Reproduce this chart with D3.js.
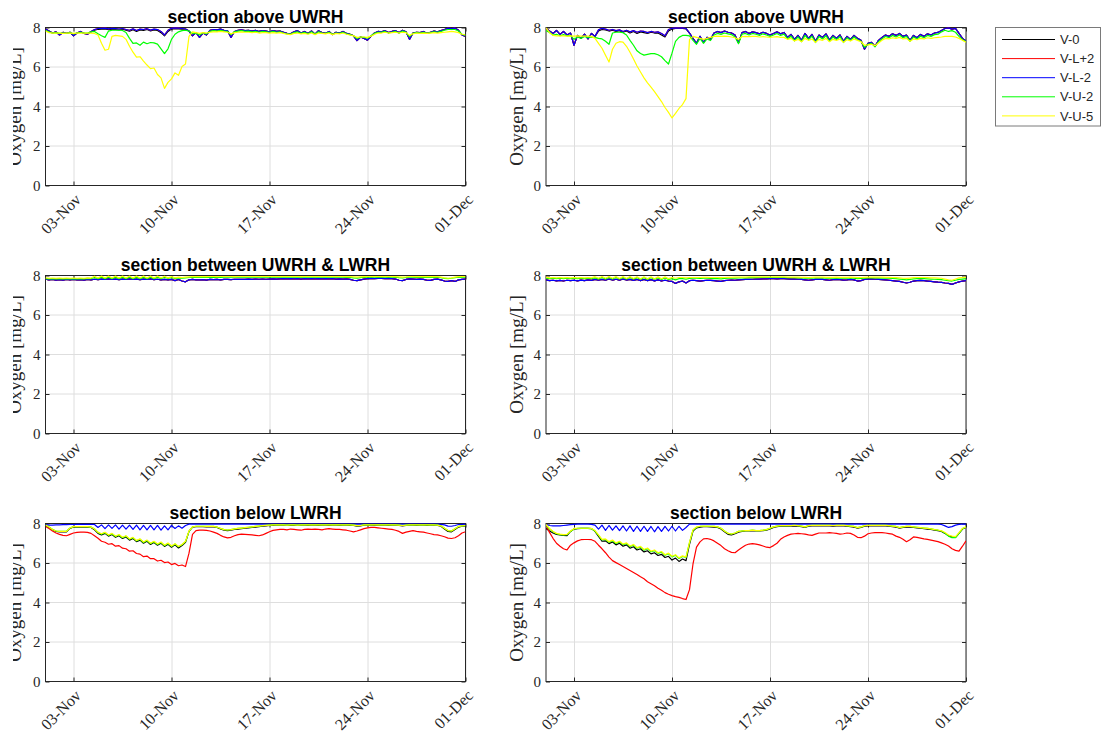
<!DOCTYPE html>
<html>
<head>
<meta charset="utf-8">
<script src="https://cdn.jsdelivr.net/npm/d3@7"></script>
<style>
  html, body { margin: 0; padding: 0; background: #ffffff; }
  svg { display: block; }
</style>
</head>
<body>
<svg id="fig" width="1108" height="735"></svg>
<script>
// ---- series metadata ----
const seriesNames  = ["V-0", "V-L+2", "V-L-2", "V-U-2", "V-U-5"];
const seriesColors = ["#000000", "#ff0000", "#0000ff", "#00ff00", "#ffff00"];
const panelTitles  = ["section above UWRH", "section between UWRH & LWRH", "section below LWRH"];
const yLabelText   = "Oxygen [mg/L]";
const tickDates    = ["2019-11-03", "2019-11-10", "2019-11-17", "2019-11-24", "2019-12-01"];
const yTicks       = [0, 2, 4, 6, 8];
const periodStart  = "2019-11-01T00:00:00Z";
const periodEnd    = "2019-12-01T00:00:00Z";
const sampleHours  = 6;   // values below are 6-hourly, starting at periodStart

// ---- section above UWRH, left run ----
const aboveL_VLm2 = [
  7.92,7.82,7.72,7.78, 7.62,7.75,7.70,7.76,
  7.58,7.72,7.80,7.70, 7.66,7.80,7.90,7.95,
  7.96,7.97,7.93,7.96, 7.94,7.92,7.95,7.90,
  7.86,7.93,7.85,7.92, 7.90,7.94,7.87,7.92,
  7.90,7.80,7.62,7.86, 7.96,7.98,7.97,7.95,
  7.92,7.82,7.58,7.74, 7.50,7.72,7.62,7.86,
  7.90,7.88,7.92,7.86, 7.84,7.50,7.80,7.86,
  7.88,7.84,7.86,7.82, 7.86,7.80,7.84,7.82,
  7.78,7.84,7.80,7.82, 7.76,7.70,7.68,7.78,
  7.84,7.72,7.80,7.70, 7.82,7.66,7.84,7.74,
  7.70,7.80,7.64,7.76, 7.72,7.80,7.70,7.66,
  7.58,7.34,7.52,7.45, 7.36,7.55,7.72,7.80,
  7.78,7.84,7.74,7.80, 7.84,7.74,7.86,7.78,
  7.40,7.72,7.76,7.74, 7.80,7.70,7.76,7.82,
  7.78,7.84,7.90,7.97, 7.94,7.98,7.86,7.62,
  7.55];
const aboveL_V0 = [
  7.92,7.82,7.72,7.78, 7.62,7.75,7.70,7.76,
  7.58,7.72,7.80,7.70, 7.66,7.78,7.86,7.91,
  7.92,7.93,7.89,7.92, 7.90,7.88,7.91,7.86,
  7.81,7.89,7.80,7.88, 7.85,7.90,7.83,7.88,
  7.85,7.74,7.58,7.80, 7.92,7.94,7.93,7.92,
  7.92,7.82,7.58,7.74, 7.50,7.72,7.62,7.86,
  7.90,7.88,7.92,7.86, 7.84,7.50,7.80,7.86,
  7.88,7.84,7.86,7.82, 7.86,7.80,7.84,7.82,
  7.78,7.84,7.80,7.82, 7.76,7.70,7.68,7.78,
  7.84,7.72,7.80,7.70, 7.82,7.66,7.84,7.74,
  7.70,7.80,7.64,7.76, 7.72,7.80,7.70,7.66,
  7.58,7.34,7.52,7.45, 7.36,7.55,7.72,7.80,
  7.78,7.84,7.74,7.80, 7.84,7.74,7.86,7.78,
  7.40,7.72,7.76,7.74, 7.80,7.70,7.76,7.82,
  7.78,7.84,7.90,7.97, 7.94,7.98,7.86,7.62,
  7.55];
const aboveL_VLp2 = aboveL_VLm2;   // identical record, drawn underneath V-L-2
const aboveL_VU2 = [
  7.85,7.78,7.72,7.74, 7.70,7.72,7.70,7.74,
  7.68,7.72,7.76,7.72, 7.72,7.78,7.80,7.68,
  7.58,7.50,7.82,7.86, 7.86,7.86,7.85,7.75,
  7.45,7.20,7.22,7.10, 7.26,7.18,7.24,7.22,
  7.16,6.92,6.68,6.92, 7.40,7.66,7.78,7.84,
  7.86,7.82,7.70,7.72, 7.62,7.74,7.68,7.80,
  7.84,7.82,7.85,7.82, 7.80,7.64,7.78,7.82,
  7.84,7.80,7.82,7.78, 7.80,7.76,7.80,7.78,
  7.76,7.80,7.76,7.78, 7.72,7.68,7.66,7.74,
  7.78,7.70,7.76,7.68, 7.78,7.66,7.78,7.72,
  7.70,7.76,7.66,7.72, 7.70,7.76,7.68,7.64,
  7.58,7.44,7.52,7.50, 7.46,7.58,7.70,7.76,
  7.76,7.80,7.72,7.76, 7.80,7.72,7.82,7.76,
  7.54,7.70,7.74,7.72, 7.76,7.70,7.74,7.78,
  7.76,7.80,7.86,7.90, 7.90,7.90,7.82,7.66,
  7.60];
const aboveL_VU5 = [
  7.82,7.74,7.72,7.72, 7.72,7.70,7.72,7.72,
  7.70,7.72,7.72,7.72, 7.72,7.72,7.70,7.62,
  7.20,6.85,6.90,7.55, 7.60,7.58,7.55,7.40,
  7.05,6.75,6.50,6.52, 6.30,6.10,5.92,5.95,
  5.62,5.45,4.92,5.22, 5.40,5.70,5.58,6.02,
  6.15,7.55,7.78,7.74, 7.70,7.74,7.72,7.76,
  7.78,7.78,7.80,7.78, 7.76,7.68,7.74,7.76,
  7.78,7.76,7.76,7.74, 7.76,7.72,7.74,7.74,
  7.72,7.74,7.72,7.74, 7.70,7.66,7.64,7.70,
  7.72,7.68,7.70,7.66, 7.72,7.64,7.72,7.70,
  7.68,7.72,7.64,7.70, 7.68,7.72,7.66,7.62,
  7.58,7.50,7.52,7.52, 7.50,7.56,7.66,7.72,
  7.72,7.76,7.72,7.74, 7.76,7.72,7.76,7.74,
  7.60,7.68,7.72,7.70, 7.72,7.70,7.72,7.74,
  7.72,7.74,7.76,7.78, 7.80,7.78,7.74,7.66,
  7.62];

// ---- section above UWRH, right run ----
const aboveR_VLm2 = [
  7.95,7.82,7.70,7.85, 7.65,7.80,7.62,7.72,
  7.10,7.60,7.45,7.66, 7.42,7.70,7.55,7.88,
  7.96,7.92,7.86,7.90, 7.84,7.88,7.80,7.86,
  7.78,7.84,7.76,7.82, 7.80,7.74,7.80,7.76,
  7.78,7.70,7.58,7.90, 7.96,7.98,7.97,7.98,
  7.95,7.72,7.45,7.20, 7.55,7.25,7.50,7.40,
  7.72,7.80,7.74,7.82, 7.76,7.72,7.62,7.22,
  7.74,7.80,7.70,7.78, 7.74,7.68,7.76,7.70,
  7.62,7.70,7.78,7.68, 7.75,7.50,7.65,7.40,
  7.60,7.35,7.70,7.45, 7.65,7.30,7.62,7.50,
  7.68,7.36,7.60,7.45, 7.62,7.30,7.55,7.40,
  7.60,7.45,7.35,6.90, 7.20,7.25,7.05,7.35,
  7.50,7.62,7.55,7.68, 7.60,7.70,7.55,7.62,
  7.35,7.60,7.48,7.65, 7.55,7.68,7.62,7.72,
  7.75,7.85,7.95,7.98, 7.92,7.96,7.70,7.45,
  7.32];
const aboveR_V0 = [
  7.95,7.82,7.70,7.85, 7.65,7.80,7.62,7.72,
  7.10,7.60,7.45,7.66, 7.42,7.70,7.55,7.82,
  7.90,7.88,7.82,7.86, 7.80,7.84,7.76,7.82,
  7.72,7.80,7.70,7.78, 7.74,7.70,7.76,7.72,
  7.72,7.62,7.52,7.82, 7.92,7.95,7.95,7.96,
  7.93,7.72,7.45,7.20, 7.55,7.25,7.50,7.40,
  7.72,7.80,7.74,7.82, 7.76,7.72,7.62,7.22,
  7.74,7.80,7.70,7.78, 7.74,7.68,7.76,7.70,
  7.62,7.70,7.78,7.68, 7.75,7.50,7.65,7.40,
  7.60,7.35,7.70,7.45, 7.65,7.30,7.62,7.50,
  7.68,7.36,7.60,7.45, 7.62,7.30,7.55,7.40,
  7.60,7.45,7.35,6.90, 7.20,7.25,7.05,7.35,
  7.50,7.62,7.55,7.68, 7.60,7.70,7.55,7.62,
  7.35,7.60,7.48,7.65, 7.55,7.68,7.62,7.72,
  7.75,7.85,7.95,7.98, 7.92,7.96,7.70,7.45,
  7.32];
const aboveR_VLp2 = aboveR_VLm2;   // identical record, drawn underneath V-L-2
const aboveR_VU2 = [
  7.85,7.75,7.62,7.66, 7.58,7.64,7.58,7.60,
  7.40,7.52,7.45,7.55, 7.48,7.52,7.50,7.45,
  7.42,7.30,7.15,7.72, 7.76,7.76,7.74,7.62,
  7.35,7.10,6.82,6.68, 6.60,6.64,6.68,6.68,
  6.62,6.52,6.32,6.15, 6.70,7.30,7.50,7.60,
  7.60,7.58,7.35,7.15, 7.45,7.20,7.42,7.34,
  7.62,7.70,7.65,7.72, 7.68,7.64,7.52,7.18,
  7.66,7.70,7.62,7.70, 7.66,7.60,7.68,7.62,
  7.55,7.62,7.70,7.60, 7.66,7.42,7.56,7.32,
  7.52,7.28,7.60,7.38, 7.56,7.24,7.54,7.42,
  7.58,7.30,7.52,7.38, 7.54,7.24,7.48,7.34,
  7.52,7.38,7.30,7.00, 7.15,7.20,7.02,7.28,
  7.42,7.55,7.48,7.60, 7.52,7.62,7.48,7.55,
  7.30,7.52,7.42,7.56, 7.48,7.60,7.55,7.64,
  7.66,7.78,7.86,7.80, 7.84,7.76,7.55,7.38,
  7.28];
const aboveR_VU5 = [
  7.98,7.75,7.60,7.58, 7.58,7.58,7.56,7.58,
  7.56,7.58,7.56,7.56, 7.56,7.55,7.45,7.20,
  6.95,6.60,6.25,6.90, 7.20,7.28,7.26,7.05,
  6.75,6.40,6.05,5.75, 5.45,5.20,4.98,4.75,
  4.50,4.25,3.95,3.70, 3.42,3.65,3.90,4.10,
  4.40,7.40,7.55,7.50, 7.45,7.40,7.45,7.50,
  7.55,7.56,7.55,7.56, 7.55,7.52,7.48,7.40,
  7.54,7.55,7.54,7.55, 7.55,7.52,7.54,7.52,
  7.50,7.52,7.54,7.50, 7.50,7.40,7.45,7.32,
  7.40,7.28,7.45,7.35, 7.42,7.25,7.40,7.35,
  7.45,7.28,7.40,7.35, 7.42,7.25,7.38,7.32,
  7.42,7.35,7.28,7.10, 7.12,7.15,7.08,7.22,
  7.35,7.45,7.42,7.48, 7.45,7.50,7.42,7.45,
  7.30,7.42,7.38,7.45, 7.42,7.48,7.45,7.48,
  7.50,7.52,7.55,7.55, 7.55,7.52,7.45,7.35,
  7.25];

// ---- section between UWRH & LWRH, left run ----
const midL_VLm2 = [
  7.82,7.78,7.80,7.77, 7.79,7.77,7.80,7.78,
  7.80,7.78,7.79,7.77, 7.80,7.78,7.81,7.79,
  7.82,7.80,7.83,7.80, 7.82,7.79,7.82,7.80,
  7.83,7.80,7.82,7.79, 7.82,7.80,7.83,7.79,
  7.81,7.78,7.80,7.78, 7.80,7.74,7.80,7.72,
  7.68,7.78,7.80,7.78, 7.78,7.79,7.77,7.80,
  7.79,7.80,7.78,7.80, 7.80,7.79,7.81,7.80,
  7.81,7.80,7.82,7.80, 7.82,7.81,7.82,7.81,
  7.82,7.83,7.82,7.83, 7.84,7.83,7.84,7.83,
  7.84,7.82,7.84,7.83, 7.84,7.83,7.84,7.83,
  7.84,7.83,7.84,7.82, 7.83,7.82,7.83,7.80,
  7.76,7.74,7.78,7.82, 7.84,7.85,7.84,7.85,
  7.85,7.84,7.85,7.84, 7.82,7.76,7.74,7.80,
  7.83,7.82,7.80,7.82, 7.80,7.76,7.75,7.80,
  7.82,7.78,7.72,7.70, 7.74,7.70,7.78,7.80,
  7.82];
const midL_V0   = midL_VLm2;   // coincident records, hidden beneath V-L-2
const midL_VLp2 = midL_VLm2;
const midL_VU2 = [
  7.84,7.83,7.84,7.83, 7.84,7.83,7.84,7.83,
  7.84,7.83,7.84,7.83, 7.85,7.84,7.90,7.84,
  7.92,7.84,7.92,7.84, 7.92,7.84,7.92,7.84,
  7.92,7.84,7.92,7.84, 7.92,7.84,7.92,7.84,
  7.92,7.84,7.91,7.85, 7.90,7.85,7.88,7.87,
  7.88,7.90,7.91,7.91, 7.91,7.91,7.92,7.91,
  7.91,7.92,7.91,7.92, 7.92,7.92,7.92,7.92,
  7.92,7.92,7.93,7.92, 7.92,7.93,7.92,7.92,
  7.93,7.92,7.92,7.93, 7.92,7.92,7.93,7.92,
  7.92,7.93,7.92,7.92, 7.93,7.92,7.92,7.93,
  7.92,7.92,7.93,7.92, 7.92,7.92,7.91,7.90,
  7.88,7.87,7.89,7.91, 7.92,7.93,7.92,7.92,
  7.93,7.92,7.92,7.92, 7.91,7.89,7.88,7.90,
  7.92,7.92,7.91,7.92, 7.91,7.90,7.90,7.91,
  7.91,7.89,7.85,7.84, 7.86,7.89,7.91,7.92,
  7.92];
const midL_VU5 = [
  7.88,7.86,7.87,7.86, 7.87,7.86,7.87,7.86,
  7.87,7.86,7.87,7.86, 7.88,7.87,7.96,7.87,
  7.97,7.87,7.97,7.87, 7.97,7.87,7.97,7.87,
  7.97,7.87,7.97,7.87, 7.97,7.87,7.97,7.87,
  7.97,7.87,7.96,7.88, 7.95,7.88,7.92,7.90,
  7.92,7.93,7.94,7.94, 7.94,7.95,7.94,7.95,
  7.95,7.94,7.95,7.95, 7.95,7.95,7.94,7.95,
  7.95,7.95,7.95,7.95, 7.95,7.95,7.95,7.95,
  7.95,7.95,7.95,7.95, 7.95,7.95,7.95,7.95,
  7.95,7.95,7.95,7.95, 7.95,7.95,7.95,7.95,
  7.95,7.95,7.95,7.95, 7.95,7.95,7.94,7.94,
  7.93,7.92,7.93,7.94, 7.95,7.95,7.95,7.95,
  7.95,7.95,7.95,7.95, 7.94,7.93,7.92,7.93,
  7.95,7.95,7.94,7.95, 7.94,7.94,7.94,7.94,
  7.94,7.92,7.88,7.86, 7.88,7.92,7.94,7.95,
  7.95];

// ---- section between UWRH & LWRH, right run ----
const midR_VLm2 = [
  7.78,7.74,7.76,7.73, 7.75,7.72,7.76,7.74,
  7.76,7.73,7.77,7.74, 7.78,7.75,7.80,7.76,
  7.80,7.76,7.82,7.77, 7.81,7.76,7.82,7.77,
  7.80,7.75,7.80,7.74, 7.80,7.74,7.79,7.73,
  7.78,7.72,7.76,7.72, 7.70,7.60,7.68,7.72,
  7.62,7.74,7.76,7.74, 7.72,7.74,7.76,7.75,
  7.74,7.72,7.70,7.74, 7.76,7.77,7.76,7.78,
  7.79,7.80,7.80,7.81, 7.82,7.82,7.83,7.83,
  7.84,7.84,7.83,7.84, 7.84,7.83,7.82,7.82,
  7.81,7.80,7.78,7.76, 7.78,7.80,7.81,7.80,
  7.78,7.76,7.79,7.80, 7.79,7.77,7.78,7.80,
  7.78,7.72,7.74,7.80, 7.82,7.82,7.81,7.80,
  7.79,7.78,7.76,7.74, 7.72,7.70,7.66,7.62,
  7.66,7.72,7.74,7.75, 7.74,7.72,7.70,7.68,
  7.66,7.65,7.62,7.60, 7.55,7.62,7.68,7.72,
  7.74];
const midR_V0   = midR_VLm2;   // coincident records, hidden beneath V-L-2
const midR_VLp2 = midR_VLm2;
const midR_VU2 = [
  7.86,7.84,7.86,7.84, 7.86,7.84,7.86,7.84,
  7.86,7.84,7.86,7.84, 7.86,7.84,7.88,7.83,
  7.90,7.82,7.90,7.82, 7.90,7.82,7.90,7.82,
  7.90,7.82,7.89,7.81, 7.89,7.81,7.89,7.81,
  7.88,7.80,7.88,7.80, 7.84,7.78,7.84,7.84,
  7.82,7.85,7.86,7.86, 7.85,7.86,7.86,7.85,
  7.84,7.84,7.83,7.85, 7.86,7.87,7.87,7.88,
  7.88,7.88,7.89,7.89, 7.89,7.90,7.90,7.90,
  7.90,7.90,7.90,7.90, 7.90,7.89,7.89,7.89,
  7.88,7.88,7.87,7.86, 7.87,7.88,7.88,7.88,
  7.87,7.86,7.87,7.88, 7.87,7.87,7.87,7.88,
  7.87,7.84,7.85,7.87, 7.88,7.88,7.88,7.88,
  7.87,7.87,7.86,7.85, 7.84,7.82,7.80,7.78,
  7.80,7.83,7.84,7.84, 7.84,7.83,7.82,7.81,
  7.80,7.79,7.76,7.74, 7.72,7.76,7.80,7.82,
  7.84];
const midR_VU5 = [
  7.92,7.88,7.90,7.88, 7.90,7.88,7.90,7.88,
  7.90,7.88,7.90,7.88, 7.90,7.88,7.94,7.86,
  7.95,7.86,7.95,7.86, 7.95,7.85,7.95,7.85,
  7.95,7.85,7.94,7.84, 7.94,7.84,7.94,7.84,
  7.93,7.84,7.93,7.84, 7.90,7.86,7.90,7.90,
  7.88,7.90,7.90,7.90, 7.90,7.91,7.91,7.90,
  7.90,7.90,7.89,7.90, 7.91,7.91,7.92,7.92,
  7.92,7.92,7.93,7.93, 7.93,7.93,7.93,7.93,
  7.93,7.93,7.93,7.93, 7.93,7.92,7.92,7.92,
  7.92,7.91,7.91,7.90, 7.91,7.92,7.92,7.92,
  7.91,7.91,7.91,7.92, 7.91,7.91,7.91,7.92,
  7.91,7.89,7.90,7.91, 7.92,7.92,7.92,7.92,
  7.92,7.91,7.91,7.90, 7.89,7.88,7.86,7.85,
  7.87,7.89,7.90,7.90, 7.90,7.89,7.88,7.88,
  7.87,7.86,7.82,7.78, 7.76,7.82,7.88,7.90,
  7.92];

// ---- section below LWRH, left run ----
const belowL_V0 = [
  7.90,7.80,7.68,7.60, 7.58,7.58,7.58,7.75,
  7.82,7.82,7.82,7.82, 7.82,7.80,7.68,7.50,
  7.42,7.50,7.36,7.44, 7.30,7.38,7.24,7.32,
  7.16,7.24,7.08,7.16, 7.00,7.10,6.94,7.04,
  6.90,7.00,6.84,6.95, 6.80,6.92,6.76,6.88,
  7.05,7.60,7.82,7.84, 7.84,7.84,7.83,7.84,
  7.83,7.80,7.72,7.66, 7.64,7.66,7.70,7.72,
  7.74,7.76,7.78,7.80, 7.82,7.84,7.86,7.88,
  7.90,7.91,7.92,7.92, 7.92,7.90,7.91,7.92,
  7.90,7.92,7.92,7.91, 7.92,7.92,7.91,7.92,
  7.92,7.91,7.92,7.92, 7.91,7.92,7.92,7.91,
  7.90,7.86,7.88,7.92, 7.92,7.92,7.91,7.92,
  7.92,7.92,7.91,7.92, 7.92,7.90,7.88,7.90,
  7.92,7.92,7.91,7.92, 7.92,7.91,7.92,7.92,
  7.90,7.86,7.72,7.60, 7.58,7.70,7.82,7.86,
  7.88];
const belowL_VLp2 = [
  7.85,7.75,7.62,7.52, 7.45,7.40,7.38,7.45,
  7.52,7.55,7.56,7.56, 7.55,7.50,7.38,7.25,
  7.10,7.05,6.95,6.98, 6.85,6.88,6.75,6.72,
  6.60,6.62,6.48,6.45, 6.32,6.35,6.22,6.22,
  6.10,6.14,6.02,6.05, 5.92,5.98,5.86,5.90,
  5.82,6.50,7.45,7.64, 7.66,7.66,7.65,7.62,
  7.56,7.50,7.40,7.32, 7.27,7.30,7.38,7.44,
  7.46,7.45,7.44,7.42, 7.40,7.38,7.42,7.50,
  7.58,7.65,7.68,7.70, 7.70,7.68,7.72,7.70,
  7.68,7.66,7.70,7.72, 7.70,7.72,7.70,7.68,
  7.72,7.74,7.72,7.70, 7.70,7.68,7.66,7.62,
  7.58,7.62,7.68,7.74, 7.78,7.80,7.80,7.78,
  7.76,7.74,7.72,7.70, 7.66,7.60,7.50,7.56,
  7.60,7.64,7.60,7.58, 7.56,7.52,7.48,7.44,
  7.42,7.38,7.33,7.26, 7.24,7.28,7.38,7.52,
  7.58];
const belowL_VLm2 = [
  7.94,7.92,7.92,7.93, 7.93,7.94,7.94,7.95,
  7.95,7.96,7.96,7.96, 7.96,7.96,7.95,7.80,
  7.93,7.74,7.93,7.75, 7.93,7.72,7.92,7.72,
  7.92,7.70,7.92,7.68, 7.90,7.68,7.90,7.68,
  7.90,7.66,7.88,7.68, 7.90,7.75,7.88,7.76,
  7.90,7.97,7.97,7.97, 7.97,7.97,7.97,7.97,
  7.97,7.97,7.97,7.97, 7.97,7.97,7.97,7.97,
  7.97,7.97,7.97,7.97, 7.97,7.97,7.97,7.97,
  7.97,7.97,7.97,7.97, 7.97,7.97,7.97,7.97,
  7.97,7.97,7.97,7.97, 7.97,7.97,7.97,7.97,
  7.97,7.97,7.97,7.97, 7.97,7.97,7.97,7.97,
  7.97,7.97,7.97,7.97, 7.97,7.97,7.97,7.97,
  7.97,7.97,7.97,7.97, 7.97,7.97,7.97,7.97,
  7.97,7.97,7.97,7.97, 7.97,7.97,7.97,7.97,
  7.97,7.96,7.93,7.87, 7.86,7.90,7.95,7.96,
  7.97];
const belowL_VU2 = [
  7.92,7.82,7.70,7.62, 7.60,7.60,7.60,7.77,
  7.84,7.84,7.84,7.84, 7.84,7.82,7.72,7.55,
  7.46,7.54,7.40,7.48, 7.34,7.42,7.28,7.36,
  7.20,7.28,7.12,7.20, 7.04,7.14,6.98,7.08,
  6.94,7.04,6.88,6.99, 6.84,6.96,6.82,6.92,
  7.08,7.60,7.83,7.86, 7.86,7.86,7.85,7.86,
  7.85,7.82,7.75,7.69, 7.67,7.69,7.73,7.75,
  7.77,7.79,7.81,7.83, 7.85,7.87,7.89,7.91,
  7.92,7.93,7.93,7.93, 7.93,7.92,7.93,7.93,
  7.92,7.93,7.93,7.93, 7.93,7.93,7.93,7.93,
  7.93,7.93,7.93,7.93, 7.93,7.93,7.93,7.93,
  7.92,7.89,7.90,7.93, 7.93,7.93,7.93,7.93,
  7.93,7.93,7.93,7.93, 7.93,7.92,7.90,7.92,
  7.93,7.93,7.93,7.93, 7.93,7.93,7.93,7.93,
  7.92,7.88,7.76,7.64, 7.62,7.74,7.85,7.88,
  7.90];
const belowL_VU5 = [
  7.92,7.82,7.70,7.62, 7.60,7.60,7.60,7.77,
  7.84,7.84,7.84,7.84, 7.84,7.82,7.72,7.55,
  7.48,7.56,7.42,7.50, 7.36,7.44,7.30,7.38,
  7.22,7.30,7.14,7.22, 7.06,7.16,7.00,7.10,
  6.96,7.06,6.90,7.01, 6.86,6.98,6.84,6.94,
  7.10,7.62,7.83,7.86, 7.86,7.86,7.85,7.86,
  7.85,7.82,7.75,7.69, 7.67,7.69,7.73,7.75,
  7.77,7.79,7.81,7.83, 7.85,7.87,7.89,7.91,
  7.92,7.93,7.93,7.93, 7.93,7.92,7.93,7.93,
  7.92,7.93,7.93,7.93, 7.93,7.93,7.93,7.93,
  7.93,7.93,7.93,7.93, 7.93,7.93,7.93,7.93,
  7.92,7.89,7.90,7.93, 7.93,7.93,7.93,7.93,
  7.93,7.93,7.93,7.93, 7.93,7.92,7.90,7.92,
  7.93,7.93,7.93,7.93, 7.93,7.93,7.93,7.93,
  7.92,7.88,7.76,7.64, 7.62,7.74,7.85,7.88,
  7.90];

// ---- section below LWRH, right run ----
const belowR_V0 = [
  7.75,7.62,7.52,7.45, 7.42,7.40,7.38,7.60,
  7.72,7.74,7.75,7.75, 7.75,7.74,7.60,7.35,
  7.10,7.12,6.98,7.06, 6.92,7.00,6.85,6.92,
  6.75,6.82,6.66,6.72, 6.56,6.62,6.46,6.52,
  6.38,6.44,6.28,6.34, 6.15,6.25,6.08,6.20,
  6.12,6.95,7.62,7.78, 7.82,7.84,7.84,7.83,
  7.82,7.80,7.72,7.58, 7.45,7.42,7.48,7.56,
  7.60,7.62,7.62,7.64, 7.62,7.62,7.64,7.66,
  7.72,7.80,7.84,7.86, 7.86,7.86,7.86,7.88,
  7.86,7.84,7.80,7.86, 7.88,7.88,7.88,7.88,
  7.88,7.88,7.87,7.88, 7.88,7.88,7.86,7.84,
  7.82,7.76,7.80,7.86, 7.88,7.88,7.88,7.88,
  7.88,7.88,7.86,7.84, 7.82,7.76,7.80,7.82,
  7.82,7.80,7.78,7.76, 7.74,7.72,7.70,7.66,
  7.64,7.60,7.50,7.38, 7.32,7.30,7.50,7.72,
  7.80];
const belowR_VLp2 = [
  7.90,7.55,7.25,7.00, 6.85,6.72,6.66,6.90,
  7.02,7.12,7.18,7.19, 7.19,7.18,7.10,6.90,
  6.72,6.52,6.30,6.12, 6.02,5.92,5.82,5.72,
  5.62,5.52,5.42,5.30, 5.20,5.05,4.95,4.85,
  4.72,4.62,4.50,4.42, 4.35,4.30,4.26,4.20,
  4.15,4.65,5.95,6.80, 7.07,7.22,7.24,7.20,
  7.12,7.00,6.88,6.72, 6.62,6.54,6.52,6.66,
  6.78,6.90,6.96,6.98, 6.96,6.92,6.86,6.80,
  6.78,6.88,7.00,7.20, 7.32,7.40,7.46,7.48,
  7.50,7.48,7.46,7.42, 7.40,7.46,7.52,7.52,
  7.52,7.54,7.52,7.50, 7.46,7.48,7.52,7.50,
  7.42,7.30,7.28,7.36, 7.48,7.52,7.54,7.54,
  7.54,7.52,7.49,7.46, 7.36,7.30,7.20,7.08,
  7.18,7.32,7.30,7.26, 7.22,7.20,7.16,7.12,
  7.08,7.02,6.95,6.86, 6.72,6.64,6.60,6.85,
  7.12];
const belowR_VLm2 = [
  7.95,7.90,7.88,7.88, 7.88,7.90,7.92,7.94,
  7.96,7.97,7.97,7.97, 7.97,7.96,7.92,7.72,
  7.92,7.65,7.90,7.66, 7.88,7.64,7.88,7.62,
  7.88,7.60,7.86,7.60, 7.86,7.60,7.85,7.58,
  7.84,7.60,7.85,7.62, 7.86,7.62,7.86,7.65,
  7.80,7.97,7.97,7.97, 7.97,7.97,7.97,7.97,
  7.97,7.97,7.97,7.97, 7.97,7.97,7.97,7.97,
  7.97,7.97,7.97,7.97, 7.97,7.97,7.97,7.97,
  7.97,7.97,7.97,7.97, 7.97,7.97,7.97,7.97,
  7.97,7.97,7.97,7.97, 7.97,7.97,7.97,7.97,
  7.97,7.97,7.97,7.97, 7.97,7.97,7.97,7.97,
  7.97,7.97,7.97,7.97, 7.97,7.97,7.97,7.97,
  7.97,7.97,7.97,7.97, 7.97,7.97,7.97,7.97,
  7.97,7.97,7.97,7.97, 7.97,7.97,7.97,7.97,
  7.97,7.95,7.88,7.80, 7.84,7.92,7.96,7.97,
  7.97];
const belowR_VU2 = [
  7.92,7.72,7.58,7.48, 7.44,7.42,7.43,7.60,
  7.72,7.75,7.75,7.75, 7.75,7.74,7.62,7.40,
  7.17,7.19,7.05,7.13, 6.99,7.07,6.93,6.99,
  6.83,6.91,6.75,6.81, 6.65,6.73,6.57,6.63,
  6.49,6.55,6.39,6.47, 6.31,6.39,6.23,6.33,
  6.28,7.03,7.66,7.81, 7.85,7.86,7.86,7.85,
  7.85,7.83,7.76,7.62, 7.50,7.47,7.52,7.60,
  7.62,7.64,7.64,7.66, 7.64,7.64,7.66,7.69,
  7.76,7.83,7.87,7.89, 7.89,7.89,7.89,7.91,
  7.89,7.87,7.83,7.89, 7.91,7.91,7.91,7.91,
  7.91,7.91,7.90,7.91, 7.91,7.91,7.89,7.87,
  7.85,7.79,7.83,7.89, 7.91,7.91,7.91,7.91,
  7.91,7.91,7.89,7.87, 7.85,7.79,7.83,7.85,
  7.85,7.83,7.81,7.79, 7.77,7.75,7.73,7.69,
  7.66,7.62,7.50,7.36, 7.28,7.28,7.50,7.74,
  7.82];
const belowR_VU5 = [
  7.95,7.75,7.60,7.50, 7.46,7.44,7.45,7.62,
  7.74,7.76,7.76,7.76, 7.76,7.75,7.64,7.42,
  7.20,7.22,7.08,7.16, 7.02,7.10,6.96,7.02,
  6.86,6.94,6.78,6.84, 6.68,6.76,6.60,6.66,
  6.52,6.58,6.42,6.50, 6.34,6.42,6.26,6.36,
  6.30,7.05,7.68,7.82, 7.86,7.87,7.87,7.86,
  7.85,7.83,7.76,7.62, 7.50,7.47,7.52,7.60,
  7.62,7.64,7.64,7.66, 7.64,7.64,7.66,7.69,
  7.76,7.83,7.87,7.89, 7.89,7.89,7.89,7.91,
  7.89,7.87,7.83,7.89, 7.91,7.91,7.91,7.91,
  7.91,7.91,7.90,7.91, 7.91,7.91,7.89,7.87,
  7.85,7.79,7.83,7.89, 7.91,7.91,7.91,7.91,
  7.91,7.91,7.89,7.87, 7.85,7.79,7.83,7.85,
  7.85,7.83,7.81,7.79, 7.77,7.75,7.73,7.69,
  7.67,7.63,7.54,7.42, 7.36,7.34,7.54,7.75,
  7.83];

// ---- layout ----
const colX = [45.5, 546];
const rowY = [27.5, 275.5, 523.5];
const plotW = 420, plotH = 158;
const yLabelOffset = [-24.5, -23];
const axisColor = "#262626";
const gridColor = "#dedede";
const serif = "'Liberation Serif', 'Times New Roman', serif";
const sans  = "'Liberation Sans', Arial, sans-serif";

const panels = [
  { row: 0, col: 0, series: [aboveL_V0, aboveL_VLp2, aboveL_VLm2, aboveL_VU2, aboveL_VU5] },
  { row: 0, col: 1, series: [aboveR_V0, aboveR_VLp2, aboveR_VLm2, aboveR_VU2, aboveR_VU5] },
  { row: 1, col: 0, series: [midL_V0, midL_VLp2, midL_VLm2, midL_VU2, midL_VU5] },
  { row: 1, col: 1, series: [midR_V0, midR_VLp2, midR_VLm2, midR_VU2, midR_VU5] },
  { row: 2, col: 0, series: [belowL_V0, belowL_VLp2, belowL_VLm2, belowL_VU2, belowL_VU5] },
  { row: 2, col: 1, series: [belowR_V0, belowR_VLp2, belowR_VLm2, belowR_VU2, belowR_VU5] }
];

const svg = d3.select("#fig");
const t0 = new Date(periodStart);
const sampleTime = i => new Date(t0.getTime() + i * sampleHours * 3600 * 1000);
const xTickValues = tickDates.map(s => new Date(s + "T00:00:00Z"));
const fmt = d3.utcFormat("%d-%b");

const x = d3.scaleUtc().domain([t0, new Date(periodEnd)]).range([0, plotW]);
const y = d3.scaleLinear().domain([0, 8]).range([plotH, 0]);

// clip used by the y label of the left column (figure edge)
const defs = svg.append("defs");
defs.append("clipPath").attr("id", "edgeClip")
  .append("rect").attr("x", 13).attr("y", 0).attr("width", 1108).attr("height", 735);
defs.append("clipPath").attr("id", "plotClip")
  .append("rect").attr("x", 0).attr("y", -1).attr("width", plotW).attr("height", plotH + 2);

const line = d3.line()
  .x((d, i) => x(sampleTime(i)))
  .y(d => y(d));

panels.forEach(p => {
  const g = svg.append("g")
    .attr("transform", `translate(${colX[p.col]},${rowY[p.row]})`);

  g.append("rect").attr("width", plotW).attr("height", plotH).attr("fill", "#ffffff");

  // grid
  g.append("g").selectAll("line").data(xTickValues).join("line")
    .attr("x1", d => Math.round(x(d)) + 0.5).attr("x2", d => Math.round(x(d)) + 0.5)
    .attr("y1", 0).attr("y2", plotH)
    .attr("stroke", gridColor).attr("stroke-width", 1);
  g.append("g").selectAll("line").data(yTicks).join("line")
    .attr("x1", 0).attr("x2", plotW)
    .attr("y1", d => y(d)).attr("y2", d => y(d))
    .attr("stroke", gridColor).attr("stroke-width", 1);

  // box
  g.append("rect").attr("width", plotW).attr("height", plotH)
    .attr("fill", "none").attr("stroke", axisColor).attr("stroke-width", 1);

  // axes with inward ticks
  const bottom = g.append("g").attr("transform", `translate(0,${plotH})`)
    .call(d3.axisBottom(x).tickValues(xTickValues).tickSize(-4).tickFormat(fmt));
  const top = g.append("g")
    .call(d3.axisTop(x).tickValues(xTickValues).tickSize(-4).tickFormat(""));
  const left = g.append("g")
    .call(d3.axisLeft(y).tickValues(yTicks).tickSize(-4).tickPadding(5));
  const right = g.append("g").attr("transform", `translate(${plotW},0)`)
    .call(d3.axisRight(y).tickValues(yTicks).tickSize(-4).tickFormat(""));

  [bottom, top, left, right].forEach(a => {
    a.select(".domain").remove();
    a.selectAll(".tick line").attr("stroke", axisColor);
  });

  bottom.selectAll(".tick text")
    .attr("x", 0).attr("y", 0).attr("dy", null)
    .attr("transform", "translate(8,15) rotate(-45)")
    .attr("text-anchor", "end")
    .attr("fill", axisColor)
    .style("font-family", serif).style("font-size", "16px");
  left.selectAll(".tick text")
    .attr("fill", axisColor)
    .style("font-family", serif).style("font-size", "15px");

  // data lines
  const lines = g.append("g").attr("clip-path", "url(#plotClip)");
  p.series.forEach((vals, k) => {
    lines.append("path")
      .datum(vals)
      .attr("d", line)
      .attr("fill", "none")
      .attr("stroke", seriesColors[k])
      .attr("stroke-width", 1.2)
      .attr("stroke-linejoin", "round");
  });

  // title
  g.append("text")
    .attr("x", plotW / 2).attr("y", -5)
    .attr("text-anchor", "middle")
    .style("font-family", sans).style("font-size", "17.5px").style("font-weight", "bold")
    .attr("fill", "#000000")
    .text(panelTitles[p.row]);

  // y label
  const lab = svg.append("g");
  if (p.col === 0) lab.attr("clip-path", "url(#edgeClip)");
  lab.append("text")
    .attr("transform", `translate(${colX[p.col] + yLabelOffset[p.col]},${rowY[p.row] + plotH / 2}) rotate(-90)`)
    .attr("text-anchor", "middle")
    .attr("fill", axisColor)
    .style("font-family", serif).style("font-size", "19px")
    .text(yLabelText);
});

// legend
const lg = svg.append("g").attr("transform", "translate(995.5,27.5)");
lg.append("rect").attr("width", 105).attr("height", 98.5)
  .attr("fill", "#ffffff").attr("stroke", "#7a7a7a").attr("stroke-width", 1);
seriesNames.forEach((name, k) => {
  const yy = 12 + k * 19.1;
  lg.append("line")
    .attr("x1", 6.5).attr("x2", 59.5).attr("y1", yy).attr("y2", yy)
    .attr("stroke", seriesColors[k]).attr("stroke-width", 1);
  lg.append("text")
    .attr("x", 64.5).attr("y", yy).attr("dy", "0.36em")
    .attr("fill", axisColor)
    .style("font-family", sans).style("font-size", "13px")
    .text(name);
});
</script>
</body>
</html>
